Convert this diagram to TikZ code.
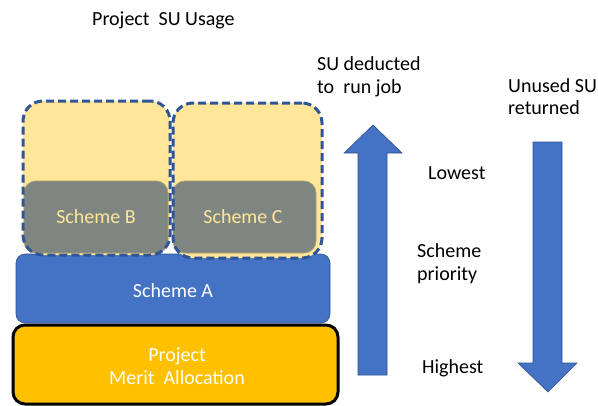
\documentclass[tikz,border=0pt]{standalone}
\usepackage{fontspec}
\setmainfont{Carlito}
\definecolor{dashblue}{RGB}{47,85,151}
\definecolor{lightyel}{RGB}{255,230,153}
\definecolor{grayfill}{RGB}{127,134,129}
\definecolor{grayedge}{RGB}{170,160,110}
\definecolor{schemeblue}{RGB}{68,114,196}
\definecolor{blueedge}{RGB}{47,82,143}
\definecolor{gold}{RGB}{255,192,0}
\tikzset{
  txt/.style={font=\fontsize{20}{23}\selectfont, inner sep=0pt, text=black},
  box/.style={rectangle, inner sep=0pt, font=\fontsize{20}{23}\selectfont, align=center},
  dashbox/.style={box, draw=dashblue, line width=3pt, dash pattern=on 8pt off 4pt, fill=lightyel, rounded corners=20pt},
  graybox/.style={box, draw=grayedge, line width=0.8pt, fill=grayfill, rounded corners=12pt, text=lightyel},
  dashonly/.style={box, draw=dashblue, line width=3pt, dash pattern=on 8pt off 4pt, rounded corners=20pt},
  bluebox/.style={box, draw=blueedge, line width=0.6pt, fill=schemeblue, rounded corners=9pt, text=white},
  goldbox/.style={box, draw=black, line width=3pt, fill=gold, rounded corners=12pt, text=white},
  bigarrow/.style={fill=schemeblue, draw=blueedge, line width=0.6pt}
}
\begin{document}
\begin{tikzpicture}[x=1pt,y=-1pt]
\useasboundingbox (0,0) rectangle (598,405);
% title
\node[txt, anchor=base west] (title) at (92,25) {Project\ \ SU Usage};
% Scheme A
\node[bluebox, minimum width=314pt, minimum height=69pt] (schA) at (173,288.5) {};
\node[box, text=white, anchor=base] (schAt) at (173,297) {Scheme A};
% Project merit
\node[goldbox, minimum width=325pt, minimum height=79pt] (proj) at (175.5,364.5) {};
\node[box, text=white, anchor=base] (projt1) at (177,361) {Project};
\node[box, text=white, anchor=base] (projt2) at (177,384) {Merit\ \ Allocation};
% yellow fills
\node[box, fill=lightyel, rounded corners=20pt, minimum width=147pt, minimum height=154pt] (fillB) at (96.5,178) {};
\node[box, fill=lightyel, rounded corners=20pt, minimum width=149pt, minimum height=155pt] (fillC) at (247.5,180.5) {};
% gray boxes
\node[graybox, minimum width=144pt, minimum height=72pt] (grayB) at (96,217) {};
\node[graybox, minimum width=143pt, minimum height=72pt] (grayC) at (244.5,217) {};
\node[box, text=lightyel, anchor=base] (schBt) at (96,223) {Scheme B};
\node[box, text=lightyel, anchor=base] (schCt) at (243,223) {Scheme C};
% dashed outlines
\node[dashonly, minimum width=147pt, minimum height=154pt] (dashB) at (96.5,178) {};
\node[dashonly, minimum width=149pt, minimum height=155pt] (dashC) at (247.5,180.5) {};
% arrows
\draw[bigarrow] (358,375) -- (387,375) -- (387,153) -- (402,153) -- (373,125) -- (344,153) -- (358,153) -- cycle;
\draw[bigarrow] (533,142) -- (562,142) -- (562,363) -- (577,363) -- (548,392) -- (518,363) -- (533,363) -- cycle;
% labels
\node[txt, anchor=base west] (sud1) at (317,70) {SU deducted};
\node[txt, anchor=base west] (sud2) at (317,93) {to\ \ run job};
\node[txt, anchor=base west] (un1) at (508,92) {Unused SU};
\node[txt, anchor=base west] (un2) at (508,114) {returned};
\node[txt, anchor=base west] (low) at (428,179) {Lowest};
\node[txt, anchor=base west] (sp1) at (417,257) {Scheme};
\node[txt, anchor=base west] (sp2) at (417,280) {priority};
\node[txt, anchor=base west] (high) at (422,373) {Highest};
\end{tikzpicture}
\end{document}
